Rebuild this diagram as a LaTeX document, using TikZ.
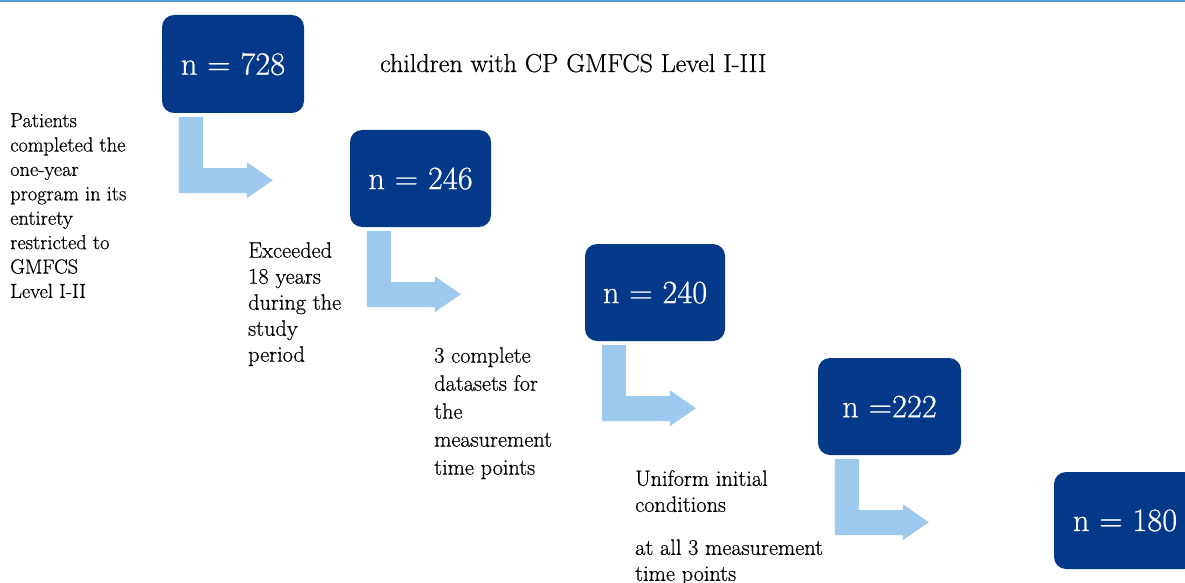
\documentclass[tikz,border=0pt]{standalone}
\usepackage{fontspec}
\newfontfamily\heavyrm{Latin Modern Roman}[FakeBold=0.6]
\definecolor{boxblue}{RGB}{4,56,137}
\definecolor{arrowblue}{RGB}{157,201,238}
\definecolor{ruleblue}{RGB}{91,155,213}
\begin{document}
\begin{tikzpicture}[x=1pt,y=-1pt,
  countbox/.style={fill=boxblue,rounded corners=12pt,inner sep=0pt,
    text=white,font=\heavyrm\fontsize{32.5}{36}\selectfont},
  note/.style={anchor=north west,inner sep=0pt,align=left,text=black},
  bentarrow/.style={fill=arrowblue}]
\useasboundingbox (0,0) rectangle (1185,583);
\clip (0,0) rectangle (1185,583);
% header rule
\draw[ruleblue,line width=2pt] (0,1.5) -- (1185,1.5);
% count boxes
\node[countbox,minimum width=142pt,minimum height=98pt] (b1) at (233,64) {n = 728};
\node[countbox,minimum width=141pt,minimum height=97pt] (b2) at (420.5,178.5) {n = 246};
\node[countbox,minimum width=140pt,minimum height=97pt] (b3) at (655,292.5) {n = 240};
\node[countbox,minimum width=143pt,minimum height=97pt] (b4) at (889.5,406.5) {n =222};
\node[countbox,minimum width=142pt,minimum height=97pt] (b5) at (1125,520.5) {n = 180};
% bent block arrows below each box
\foreach \b in {b1,b2,b3,b4}{
  \fill[bentarrow] ([shift={(17,4)}]\b.south west) -- ++(24,0) -- ++(0,51) -- ++(44,0)
    -- ++(0,-6) -- ++(26,18) -- ++(-26,18) -- ++(0,-5) -- ++(-68,0) -- cycle;
}
% texts
\node[anchor=base west,inner sep=0pt,font=\heavyrm\fontsize{26}{28}\selectfont] (title) at (380,72)
  {children with CP GMFCS Level I-III};
\node[note,font=\heavyrm\fontsize{20.4}{24.4}\selectfont] (t1) at (10,113)
  {Patients\\completed the\\one-year\\program in its\\entirety\\restricted to\\GMFCS\\Level I-II};
\node[note,font=\heavyrm\fontsize{22.3}{26}\selectfont] (t2) at (248,242)
  {Exceeded\\18 years\\during the\\study\\period};
\node[note,font=\heavyrm\fontsize{22.3}{28}\selectfont] (t3) at (434,347)
  {3 complete\\datasets for\\the\\measurement\\time points};
\node[note,font=\heavyrm\fontsize{22.3}{26}\selectfont] (t4) at (635,470)
  {Uniform initial\\conditions\\[17pt]at all 3 measurement\\time points};
\end{tikzpicture}
\end{document}
